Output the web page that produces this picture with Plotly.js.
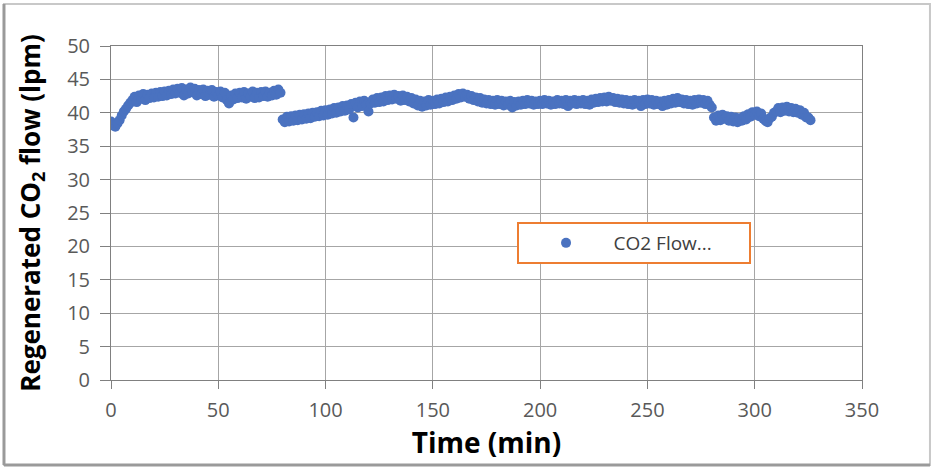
<!DOCTYPE html>
<html>
<head>
<meta charset="utf-8">
<script src="https://cdn.plot.ly/plotly-3.0.1.min.js"></script>
<style>html,body{margin:0;padding:0;background:#fff;}#chart{width:937px;height:470px;}</style>
</head>
<body>
<div id="chart"></div>
<script>
// Time: one reading per minute starting at t = 0 min
const timeStart = 0;
const timeStep = 1;
// Regenerated CO2 flow (lpm), one value per minute (t = 0 ... 326)
const co2Flow = [
  38.7, 38.1, 37.9, 38.4, 38.9, 39.6, 40.2, 40.6, 41.1, 41.5,
  41.9, 42.4, 41.6, 42.6, 42.1, 42.8, 41.9, 42.7, 42.2, 42.9,
  42.3, 43.0, 42.4, 43.1, 42.5, 43.2, 42.6, 43.3, 42.8, 43.5,
  42.9, 43.6, 43.0, 43.7, 42.6, 43.5, 42.9, 43.8, 43.1, 43.6,
  42.6, 43.4, 42.8, 43.5, 42.5, 43.3, 42.7, 43.4, 42.4, 43.1,
  42.6, 43.2, 42.3, 43.0, 41.9, 41.4, 42.6, 42.0, 42.9, 42.2,
  43.0, 42.3, 43.1, 42.1, 42.9, 42.4, 43.2, 42.2, 43.0, 42.3,
  43.1, 42.5, 43.2, 42.4, 43.0, 42.6, 43.3, 42.7, 43.5, 43.0,
  39.0, 38.6, 39.4, 38.7, 39.5, 38.8, 39.6, 38.9, 39.7, 39.0,
  39.8, 39.1, 39.9, 39.2, 40.0, 39.4, 40.1, 39.5, 40.3, 39.6,
  40.4, 39.7, 40.5, 39.9, 40.7, 40.0, 40.8, 40.2, 41.0, 40.3,
  41.1, 40.5, 41.3, 39.3, 41.5, 40.8, 41.7, 41.0, 41.8, 41.2,
  40.2, 41.4, 42.0, 41.5, 42.2, 41.6, 42.3, 41.7, 42.5, 41.9,
  42.6, 42.0, 42.7, 42.1, 42.5, 41.8, 42.6, 41.9, 42.4, 41.7,
  42.2, 41.4, 42.0, 41.1, 41.8, 40.9, 41.7, 41.1, 41.9, 41.2,
  41.8, 41.3, 42.0, 41.4, 42.1, 41.6, 42.3, 41.7, 42.4, 41.9,
  42.6, 42.1, 42.8, 42.3, 42.9, 42.4, 42.7, 42.1, 42.5, 41.9,
  42.3, 41.7, 42.2, 41.5, 42.0, 41.4, 41.9, 41.3, 41.8, 41.2,
  41.9, 41.3, 41.8, 41.1, 41.7, 41.2, 41.8, 40.8, 41.6, 41.1,
  41.7, 41.2, 41.8, 41.3, 41.9, 41.4, 41.8, 41.2, 41.7, 41.3,
  41.8, 41.3, 41.9, 41.4, 41.8, 41.2, 41.7, 41.3, 41.9, 41.4,
  41.8, 41.3, 41.9, 41.0, 41.8, 41.4, 41.9, 41.3, 41.8, 41.4,
  41.9, 41.3, 41.8, 41.2, 42.0, 41.5, 42.1, 41.6, 42.2, 41.7,
  42.3, 41.7, 42.4, 41.8, 42.2, 41.6, 42.1, 41.5, 42.0, 41.4,
  41.9, 41.3, 41.8, 41.2, 41.9, 41.4, 41.8, 41.0, 41.9, 41.3,
  42.0, 41.4, 41.9, 41.2, 41.8, 41.3, 41.7, 41.0, 41.8, 41.2,
  41.9, 41.4, 42.1, 41.5, 42.2, 41.6, 42.0, 41.4, 41.9, 41.3,
  41.8, 41.2, 41.9, 41.4, 42.0, 41.5, 41.9, 41.3, 41.8, 41.2,
  40.8, 39.3, 38.8, 39.6, 38.9, 39.7, 39.1, 39.5, 38.8, 39.4,
  38.7, 39.3, 38.6, 39.2, 38.8, 39.5, 39.0, 39.8, 39.4, 40.1,
  39.7, 40.2, 39.5, 39.9, 39.1, 38.8, 38.6, 39.2, 39.4, 40.0,
  40.2, 40.7, 40.1, 40.8, 40.3, 40.9, 40.2, 40.7, 40.1, 40.6,
  40.0, 40.4, 39.7, 40.0, 39.3, 39.3, 38.9
];
const seriesName = 'CO2 Flow...';
const xTicks = [0, 50, 100, 150, 200, 250, 300, 350];
const yTicks = [0, 5, 10, 15, 20, 25, 30, 35, 40, 45, 50];

const trace = {
  type: 'scatter',
  mode: 'markers',
  name: seriesName,
  x0: timeStart,
  dx: timeStep,
  y: co2Flow,
  marker: {color: '#4a72c0', size: 10, line: {width: 0}},
  showlegend: true
};

const tickFont = {family: 'Open Sans, Liberation Sans, sans-serif', size: 20, color: '#595959'};
const titleFont = {family: 'Open Sans, Liberation Sans, sans-serif', size: 26, color: '#000', weight: 'bold'};

const layout = {
  width: 937, height: 470,
  margin: {l: 111, r: 75, t: 46, b: 90},
  paper_bgcolor: '#ffffff',
  plot_bgcolor: '#ffffff',
  xaxis: {
    range: [0, 350], tickvals: xTicks, ticktext: xTicks.map(String),
    showgrid: true, gridcolor: '#a6a6a6', gridwidth: 1,
    zeroline: false, showline: true, linecolor: '#808080', linewidth: 1, mirror: true,
    ticks: 'outside', ticklen: 8, tickcolor: '#808080',
    tickfont: tickFont, ticklabelstandoff: 4,
    title: {text: '<b>Time (min)</b>', font: Object.assign({}, titleFont, {size: 28}), standoff: 9}
  },
  yaxis: {
    range: [0, 50], tickvals: yTicks, ticktext: yTicks.map(String),
    showgrid: true, gridcolor: '#a6a6a6', gridwidth: 1,
    zeroline: false, showline: true, linecolor: '#808080', linewidth: 1, mirror: true,
    ticks: 'outside', ticklen: 10, tickcolor: '#808080',
    tickfont: tickFont, ticklabelstandoff: 6,
    title: {text: '<b>Regenerated CO<sub>2</sub> flow (lpm)</b>', font: titleFont, standoff: 19}
  },
  legend: {
    x: 0.54, y: 0.473, xanchor: 'left', yanchor: 'top',
    orientation: 'h', entrywidth: 130, itemwidth: 85,
    bgcolor: '#ffffff', bordercolor: '#ED7D31', borderwidth: 2,
    font: {family: 'Open Sans, Liberation Sans, sans-serif', size: 19, color: '#404040'}
  },
  shapes: [
    {type: 'rect', xref: 'paper', yref: 'paper',
     x0: -0.1425, x1: 1.0905, y0: -0.2545, y1: 1.126,
     line: {color: '#c8c8c8', width: 2}, layer: 'below'},
    {type: 'line', xref: 'paper', yref: 'paper',
     x0: -0.1425, x1: -0.1425, y0: -0.2545, y1: 1.126,
     line: {color: '#9a9a9a', width: 3}, layer: 'below'},
    {type: 'line', xref: 'paper', yref: 'paper',
     x0: -0.1425, x1: 1.0905, y0: -0.2545, y1: -0.2545,
     line: {color: '#9a9a9a', width: 3}, layer: 'below'}
  ]
};

Plotly.newPlot('chart', [trace], layout, {displayModeBar: false, staticPlot: true});
</script>
</body>
</html>
